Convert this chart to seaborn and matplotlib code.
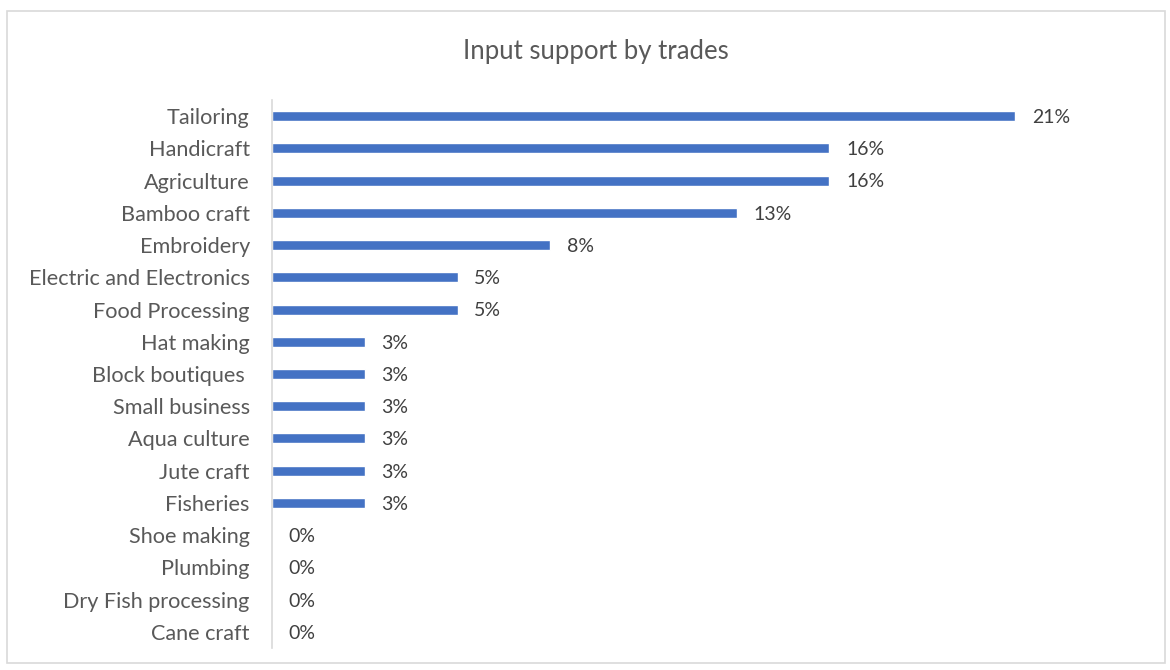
import matplotlib
matplotlib.use("Agg")
import matplotlib.pyplot as plt
import seaborn as sns
import pandas as pd
from matplotlib.patches import Rectangle

trades = ["Tailoring", "Handicraft", "Agriculture", "Bamboo craft", "Embroidery",
          "Electric and Electronics", "Food Processing", "Hat making", "Block boutiques ",
          "Small business", "Aqua culture", "Jute craft", "Fisheries", "Shoe making",
          "Plumbing", "Dry Fish processing", "Cane craft"]
shares = [21.05, 15.79, 15.79, 13.16, 7.89, 5.26, 5.26, 2.63, 2.63, 2.63, 2.63, 2.63, 2.63,
          0, 0, 0, 0]
labels = ["21%", "16%", "16%", "13%", "8%", "5%", "5%", "3%", "3%", "3%", "3%", "3%", "3%",
          "0%", "0%", "0%", "0%"]
title = "Input support by trades"

sns.set_theme(style="white")
plt.rcParams["font.family"] = ["Lato", "DejaVu Sans"]

W, H = 1170, 670
fig = plt.figure(figsize=(W / 100, H / 100), dpi=100)
fig.patch.set_facecolor("white")

# chart border
fig.patches.append(Rectangle((7 / W, 1 - 663 / H), (1165 - 7) / W, (663 - 11) / H,
                             transform=fig.transFigure, fill=False,
                             edgecolor="#D9D9D9", linewidth=1.2))

left, right, top, bottom = 272, 1150, 100, 648
ax = fig.add_axes([left / W, 1 - bottom / H, (right - left) / W, (bottom - top) / H])

df = pd.DataFrame({"trade": trades, "share": shares})
sns.barplot(data=df, x="share", y="trade", orient="h", color="#4472C4",
            width=0.31, saturation=1, ax=ax)

px_per_pct = (1015 - 272) / 21.05
ax.set_xlim(0, (right - left) / px_per_pct)
ax.set_ylim(len(trades) - 0.5, -0.5)

for i, (v, lab) in enumerate(zip(shares, labels)):
    ax.annotate(lab, xy=(v, i), xytext=(12, -1), textcoords="offset points",
                va="center", ha="left", fontsize=14, color="#404040")

ax.set_xlabel("")
ax.set_ylabel("")
ax.set_xticks([])
ax.tick_params(axis="y", length=0, pad=16, labelsize=15.6, labelcolor="#595959")
for s in ["top", "right", "bottom"]:
    ax.spines[s].set_visible(False)
ax.spines["left"].set_color("#D9D9D9")
ax.spines["left"].set_linewidth(1.2)

fig.text(596 / W, 1 - 51 / H, title, ha="center", va="center", fontsize=18.5,
         color="#595959")

fig.savefig("out.png", dpi=100, facecolor="white")
